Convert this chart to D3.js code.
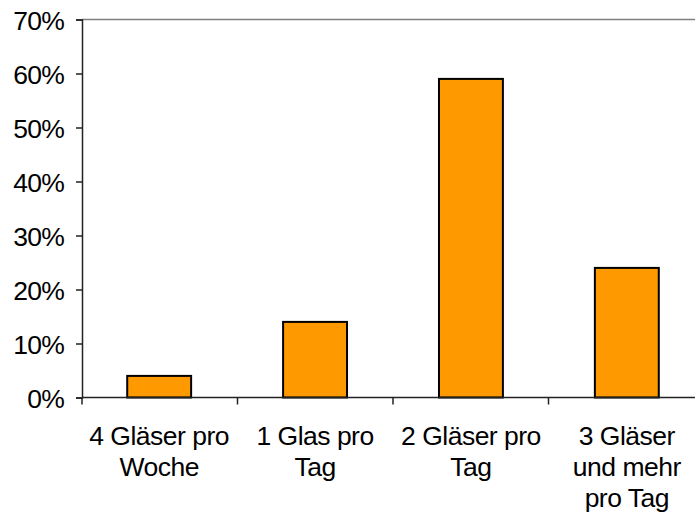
<!DOCTYPE html>
<html><head><meta charset="utf-8">
<script src="https://cdn.jsdelivr.net/npm/d3@7"></script>
<style>body{margin:0;background:#fff}svg{display:block}text{font-family:"Liberation Sans",Arial,sans-serif;fill:#000}</style>
</head><body>
<svg id="c" width="695" height="522"></svg>
<script>
const categories = ["4 Gläser pro\nWoche", "1 Glas pro\nTag", "2 Gläser pro\nTag", "3 Gläser\nund mehr\npro Tag"];
const values = [0.04, 0.14, 0.59, 0.24];
const yTicks = [0, 0.1, 0.2, 0.3, 0.4, 0.5, 0.6, 0.7];

(function () {
const svg = d3.select("#c");
const L = 82, R = 704, T = 19.5, B = 397.5;
const x = d3.scaleBand().domain(categories).range([L, R]).paddingInner(0.59).paddingOuter(0.29);
const y = d3.scaleLinear().domain([0, 0.7]).range([B, T]);

svg.append("line").attr("x1", L).attr("x2", 695).attr("y1", T).attr("y2", T)
  .attr("stroke", "#808080").attr("stroke-width", 1.5);

svg.selectAll("rect.bar").data(values).enter().append("rect")
  .attr("x", (d, i) => x(categories[i]))
  .attr("width", x.bandwidth())
  .attr("y", d => y(d))
  .attr("height", d => B - y(d))
  .attr("fill", "#FF9900").attr("stroke", "#000").attr("stroke-width", 2);

const ya = svg.append("g").attr("transform", `translate(${L},0)`)
  .call(d3.axisLeft(y).tickValues(yTicks).tickFormat(d3.format(".0%")).tickSize(6).tickPadding(12));
ya.select(".domain").attr("stroke", "#222").attr("stroke-width", 1.5);
ya.selectAll(".tick line").attr("stroke", "#222").attr("stroke-width", 1.5);
ya.selectAll("text").style("font-size", "26.5px").attr("dy", "0.36em").style("letter-spacing", "-0.8px");

const xb = d3.scaleLinear().domain([0, categories.length]).range([L, R]);
svg.append("line").attr("x1", L).attr("x2", 695).attr("y1", B).attr("y2", B)
  .attr("stroke", "#222").attr("stroke-width", 1.5);
svg.selectAll("line.ct").data(d3.range(categories.length + 1)).enter().append("line")
  .attr("x1", d => xb(d)).attr("x2", d => xb(d)).attr("y1", B).attr("y2", B + 7)
  .attr("stroke", "#222").attr("stroke-width", 1.5);

const lab = svg.selectAll("text.cat").data(categories).enter().append("text")
  .attr("text-anchor", "middle").style("font-size", "26.5px").style("letter-spacing", "-0.5px")
  .attr("transform", d => `translate(${x(d) + x.bandwidth() / 2},0)`);
lab.each(function(d) {
  const lines = d.split("\n");
  d3.select(this).selectAll("tspan").data(lines).enter().append("tspan")
    .attr("x", 0).attr("y", (l, i) => 445 + i * 31).text(l => l);
});
})();
</script>
</body></html>
